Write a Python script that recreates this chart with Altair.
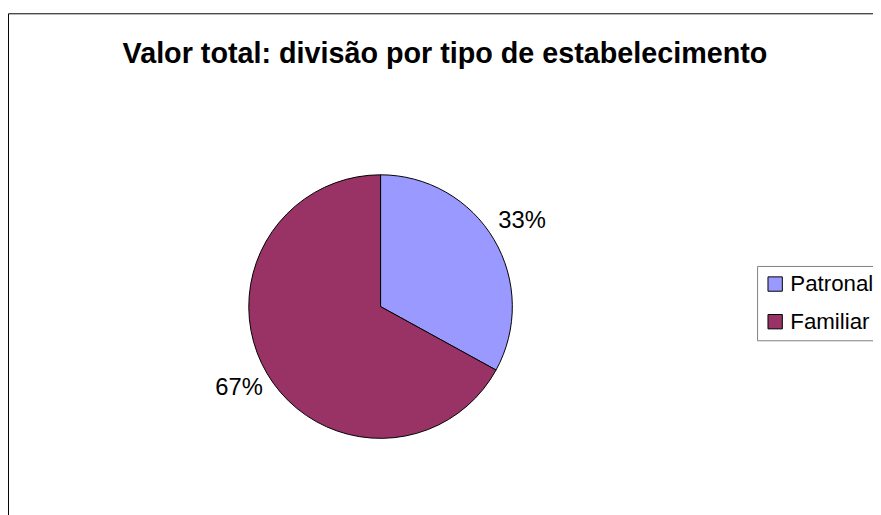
import altair as alt
import pandas as pd

categorias = ["Patronal", "Familiar"]
valores = [33, 67]
rotulos = ["33%", "67%"]
cores = ["#9999FF", "#993366"]
titulo = "Valor total: divisão por tipo de estabelecimento"

FONT = "Liberation Sans, Arial, sans-serif"

df = pd.DataFrame({
    "tipo": categorias,
    "valor": valores,
    "rotulo": rotulos,
    "ordem": list(range(len(categorias))),
})

cx, cy = 376, 299

base = alt.Chart(df).encode(
    theta=alt.Theta("valor:Q", stack=True),
    order=alt.Order("ordem:Q"),
)

pie = base.mark_arc(radius=133, stroke="black", strokeWidth=1).encode(
    x=alt.value(cx),
    y=alt.value(cy),
    color=alt.Color(
        "tipo:N",
        scale=alt.Scale(domain=categorias, range=cores),
        sort=categorias,
        legend=alt.Legend(
            title=None,
            orient="none",
            legendX=756,
            legendY=258,
            strokeColor="#808080",
            fillColor="white",
            padding=7,
            symbolType="square",
            symbolSize=210,
            symbolStrokeColor="black",
            symbolStrokeWidth=1,
            labelFont=FONT,
            labelFontSize=22.5,
            labelColor="black",
            labelOffset=4,
            rowPadding=15,
            labelLimit=300,
        ),
    ),
)

labels = base.mark_text(radius=166, dy=-2, font=FONT, fontSize=24, color="black",
                        align="center", baseline="middle").encode(
    x=alt.value(cx),
    y=alt.value(cy),
    text="rotulo:N",
)

title_df = pd.DataFrame({"t": [titulo]})
title = alt.Chart(title_df).mark_text(
    font=FONT, fontSize=29, fontWeight="bold", color="black",
    align="center", baseline="alphabetic",
).encode(x=alt.value(441), y=alt.value(53), text="t:N")

frame_df = pd.DataFrame({"a": [0]})
top_line = alt.Chart(frame_df).mark_rule(color="black", strokeWidth=1).encode(
    x=alt.value(0.5), x2=alt.value(900), y=alt.value(3.5), y2=alt.value(3.5)
)
left_line = alt.Chart(frame_df).mark_rule(color="black", strokeWidth=1).encode(
    x=alt.value(0.5), x2=alt.value(0.5), y=alt.value(3.5), y2=alt.value(600)
)

chart = alt.layer(top_line, left_line, title, pie, labels).properties(
    width=873,
    height=507,
    autosize=alt.AutoSizeParams(type="none"),
    padding=0,
).configure_view(stroke=None).configure_legend(strokeWidth=1)

chart.save("out.html", embed_options={"renderer": "svg", "actions": False})
